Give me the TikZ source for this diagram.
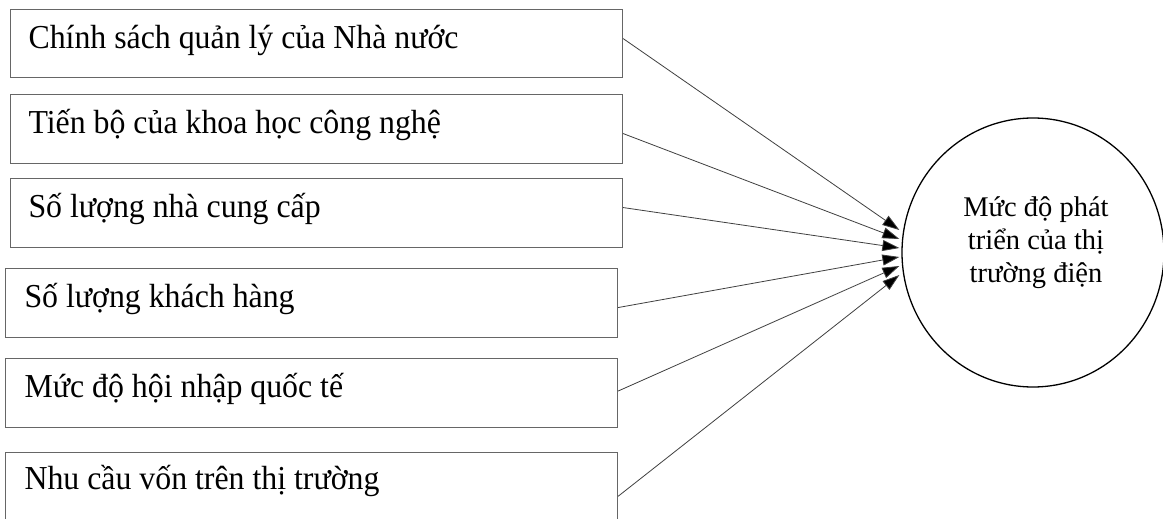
\documentclass[tikz,border=0pt]{standalone}
\usepackage{fontspec}
\setmainfont{Liberation Serif}
\newfontfamily\boxfont[FakeStretch=0.95]{Liberation Serif}
\usetikzlibrary{arrows.meta,shapes.geometric}
\begin{document}
\begin{tikzpicture}[x=1pt,y=-1pt,
  factor/.style={draw=black!60, line width=1.1pt, anchor=north west,
    text width=576pt, inner xsep=18pt, inner ysep=0pt,
    text height=39pt, text depth=30pt,
    align=flush left, font=\boxfont\fontsize{33.5}{38}\selectfont},
  factorb/.style={factor, inner xsep=19pt, text width=574pt},
  target/.style={draw=black, line width=1.3pt, ellipse, minimum width=262pt,
    minimum height=269pt, inner sep=0pt},
  ctext/.style={align=center, inner sep=0pt,
    font=\fontsize{28.5}{33}\selectfont},
  conn/.style={draw=black!75, line width=0.8pt,
    -{Triangle[length=17pt,width=11pt,fill=black]}}]
\clip (0,0) rectangle (1163,519);
\fill[white] (0,0) rectangle (1163,519);
\node[factor, text depth=29pt] (b1) at (10,9) {Chính sách quản lý của Nhà nước};
\node[factor] (b2) at (10,94) {Tiến bộ của khoa học công nghệ};
\node[factor] (b3) at (10,178) {Số lượng nhà cung cấp};
\node[factorb] (b4) at (5,268) {Số lượng khách hàng};
\node[factorb] (b5) at (5,358) {Mức độ hội nhập quốc tế};
\node[factorb, text height=36.5pt] (b6) at (5,452) {Nhu cầu vốn trên thị trường};
\node[target] (c) at (1033,252.5) {};
\node[ctext] (ct) at (1036,243) {Mức độ phát\\triển của thị\\trường điện};
\coordinate (e1) at ([xshift=-2pt,yshift=22.5pt]c.west);
\coordinate (e2) at ([xshift=-2pt,yshift=13.5pt]c.west);
\coordinate (e3) at ([xshift=-2pt,yshift=4.5pt]c.west);
\coordinate (e4) at ([xshift=-2pt,yshift=-4.5pt]c.west);
\coordinate (e5) at ([xshift=-2pt,yshift=-13.5pt]c.west);
\coordinate (e6) at ([xshift=-2pt,yshift=-22.5pt]c.west);
\draw[conn] ([yshift=5pt]b1.east) -- (e1);
\draw[conn] ([yshift=-4.5pt]b2.east) -- (e2);
\draw[conn] ([yshift=5.5pt]b3.east) -- (e3);
\draw[conn] ([yshift=-4.5pt]b4.east) -- (e4);
\draw[conn] ([yshift=2pt]b5.east) -- (e5);
\draw[conn] ([yshift=-10.5pt]b6.east) -- (e6);
\end{tikzpicture}
\end{document}
